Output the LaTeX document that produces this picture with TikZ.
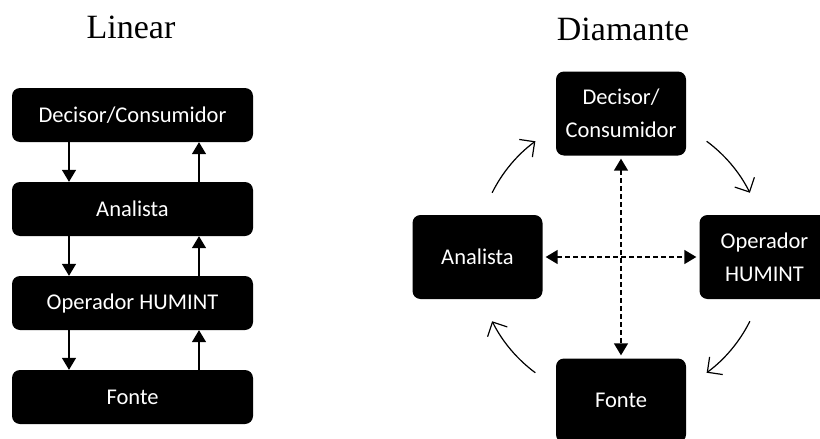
\documentclass[tikz,border=0pt]{standalone}
\usepackage{fontspec}
\setmainfont{Liberation Serif}
\newfontfamily\boxfont{Carlito}
\usetikzlibrary{arrows.meta}

\begin{document}
\begin{tikzpicture}[x=1pt, y=-1pt, node distance=94pt,
  blk/.style={draw=none, fill=black, text=white, rounded corners=8pt, inner sep=0pt,
    minimum width=130pt, minimum height=84pt, align=center,
    font=\boxfont\fontsize{22.5}{33}\selectfont},
  wide/.style={blk, minimum width=241pt, minimum height=54pt},
  flow/.style={-{Triangle[width=14pt,length=12pt]}, line width=1.4pt},
  link/.style={{Triangle[width=14pt,length=12pt]}-{Triangle[width=14pt,length=12pt]},
    line width=1.5pt, dash pattern=on 5pt off 3pt, shorten <=3pt, shorten >=3pt},
  cyc/.style={-{Straight Barb[length=11pt,width=22pt]}, line width=1.2pt},
  heading/.style={anchor=base, font=\fontsize{34}{40}\selectfont}]
\clip (0,0) rectangle (820,439);

% linear
\node (tlin)[heading] at (131,38) {Linear};
\node (dec)[wide] at (132.5,115) {Decisor/Consumidor};
\node (ana)[wide] [below of = dec] {Analista};
\node (op) [wide] [below of = ana] {Operador HUMINT};
\node (src)[wide] [below of = op]  {Fonte};
\foreach \a/\b in {dec/ana, ana/op, op/src} {
  \draw[flow] ([xshift=-63.5pt]\a.south) -- ([xshift=-63.5pt]\b.north);
  \draw[flow] ([xshift=66.5pt]\b.north) -- ([xshift=66.5pt]\a.south);
}

% diamante
\node (tdia)[heading] at (623,40) {Diamante};
\coordinate (hub) at (621,257);
\begin{scope}[node distance=143.5pt]
\node (ddec)[blk] [above of = hub] {Decisor/\\Consumidor};
\node (dana)[blk] [left of = hub]  {Analista};
\node (dop) [blk] [right of = hub] {Operador\\HUMINT};
\node (dsrc)[blk] [below of = hub] {Fonte};
\end{scope}
\draw[link] (ddec) -- (dsrc);
\draw[link] (dana) -- (dop);
\foreach \s in {-153.5, -53.5, 26.5, 126.5}
  \draw[cyc] (hub) ++(\s:144) arc[start angle=\s, end angle=\s+27, radius=144];
\end{tikzpicture}
\end{document}
